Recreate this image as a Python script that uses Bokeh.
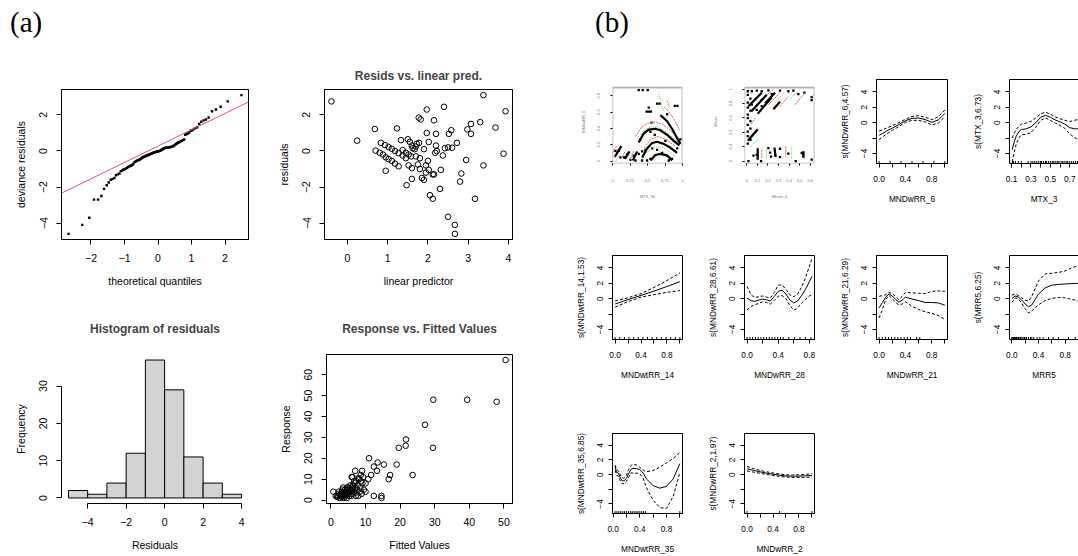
from bokeh.plotting import figure
from bokeh.layouts import row, column
from bokeh.models import (Range1d, FixedTicker, Slope, Legend, LegendItem,
                          LinearAxis, Spacer, BoxAnnotation, Div)
from bokeh.embed import file_html
from bokeh.resources import INLINE

SANS = "Liberation Sans"
SERIF = "Liberation Serif"
MINUS = "\u2212"
R_RED = "#DF536B"
R_GREEN = "#61D04F"
HIST_FILL = "#D3D3D3"

# ---------------- (a) GAM diagnostics ----------------
# QQ plot of deviance residuals
qq_theoretical = [
    -2.67, -2.26, -2.05, -1.91, -1.79, -1.69, -1.61, -1.53, -1.47, -1.41,
    -1.35, -1.30, -1.25, -1.20, -1.15, -1.11, -1.07, -1.03, -0.99, -0.96,
    -0.92, -0.89, -0.85, -0.82, -0.79, -0.76, -0.73, -0.70, -0.67, -0.64,
    -0.61, -0.58, -0.55, -0.53, -0.50, -0.47, -0.45, -0.42, -0.39, -0.37,
    -0.34, -0.32, -0.29, -0.27, -0.24, -0.21, -0.19, -0.17, -0.14, -0.12,
    -0.09, -0.07, -0.04, -0.02, 0.01, 0.03, 0.06, 0.09, 0.11, 0.14,
    0.16, 0.19, 0.21, 0.24, 0.27, 0.29, 0.32, 0.35, 0.37, 0.40,
    0.43, 0.46, 0.49, 0.52, 0.55, 0.58, 0.61, 0.64, 0.67, 0.71,
    0.74, 0.78, 0.81, 0.85, 0.89, 0.93, 0.97, 1.02, 1.07, 1.12,
    1.17, 1.23, 1.29, 1.36, 1.43, 1.51, 1.61, 1.73, 1.87, 2.08, 2.49]
qq_resid = [
    -4.6, -4.1, -3.7, -2.7, -2.7, -2.5, -2.1,
    -1.9, -1.75, -1.6, -1.55, -1.5, -1.35, -1.3, -1.25, -1.12, -1.08, -1.03, -1.01,
    -0.97, -0.93, -0.88, -0.85, -0.82, -0.8, -0.76, -0.7, -0.62, -0.58,
    -0.55, -0.52, -0.5, -0.47, -0.45, -0.42, -0.38, -0.35, -0.32, -0.3,
    -0.28, -0.26, -0.24, -0.22, -0.2, -0.18, -0.16, -0.14, -0.12, -0.1,
    -0.08, -0.07, -0.05, -0.04, -0.03, -0.02, -0.01,
    0.01, 0.04, 0.07, 0.1, 0.13, 0.15, 0.17, 0.18, 0.19, 0.2,
    0.2, 0.21, 0.22, 0.23, 0.25, 0.28, 0.32, 0.36, 0.4, 0.44,
    0.47, 0.5, 0.53, 0.56, 0.6, 0.64, 0.9, 0.94, 0.97,
    1.02, 1.12, 1.15, 1.22, 1.27, 1.32, 1.5, 1.62, 1.7, 1.75, 1.86,
    2.2, 2.3, 2.45, 2.75, 3.1]
qqline_intercept = 0.27
qqline_slope = 0.907

# residuals against the linear predictor
lp_pred = [
    -0.40, 0.24, 0.68, 1.23, 1.33,
    0.70, 0.80, 0.88, 0.95, 1.02, 1.10, 1.18, 1.27,
    0.83, 0.93, 1.02, 1.10, 1.18, 1.27, 1.37, 1.45,
    0.95, 1.37, 1.45, 1.52, 1.58,
    1.50, 1.55, 1.60, 1.62, 1.67, 1.70, 1.72, 1.78,
    1.47, 1.52, 1.60, 1.60, 1.70, 1.75, 1.80, 1.85, 1.90, 1.80, 1.90,
    1.77, 1.82, 1.97, 1.97, 1.95, 2.00, 2.02, 2.02, 1.95, 2.05, 2.12, 2.12, 2.15,
    2.15, 2.20, 2.20, 2.18, 2.22, 2.30, 2.32,
    2.37, 2.40, 2.42, 2.50, 2.52, 2.58, 2.60, 2.50, 2.67, 2.67,
    2.72, 2.80, 2.83, 2.95, 2.98, 3.07, 3.07, 3.17, 3.30, 3.38, 3.38, 3.68, 3.88, 3.93]
lp_resid = [
    2.75, 0.57, 1.22, 1.25, 0.60,
    0.02, -0.10, -0.20, -0.35, -0.45, -0.55, -0.70, -0.85,
    0.45, 0.33, 0.22, 0.12, 0.00, -0.12, -0.25, -0.40,
    -1.10, 0.05, -0.10, -0.20, -0.30,
    0.65, 0.50, 0.30, 0.15, 0.10, 0.25, 0.40, 0.45,
    -1.90, -0.80, -0.95, -1.55, -0.30, -0.75, -1.00, -1.50, -1.60, -0.40, 0.10,
    1.85, 1.75, 2.30, 1.00, -0.80, -0.55, 0.50, -1.05, -1.20, -2.45, -2.65, -1.30, -1.30,
    1.70, 0.95, 0.30, -0.10, 0.00, -2.10, -1.05,
    -0.25, 2.45, 0.15, 0.20, 0.95, 1.15, 0.18, -3.65, -4.10, -4.60,
    0.45, -1.70, -1.25, -0.50, 1.20, 1.50, 0.95, -2.65, 1.60, 3.10, -0.80, 1.30, -0.15, 2.20]

# histogram of residuals
hist_edges = [-5, -4, -3, -2, -1, 0, 1, 2, 3, 4]
hist_counts = [2, 1, 4, 12, 37, 29, 11, 4, 1]

# observed response against fitted values
fitted_vals = [
    50.5, 29.6, 39.4, 47.9, 27.2, 21.7, 21.6, 19.6, 29.5, 19.0, 23.6, 17.1, 16.7,
    15.3, 13.5, 13.3, 12.4, 11.0, 11.6, 10.8, 12.4, 14.6, 14.6, 10.0, 10.0, 9.0,
    8.6, 7.0, 6.2, 6.0, 0.7, 1.4,
    2.0, 2.3, 2.5, 2.8, 3.0, 3.2, 3.4, 3.5, 3.7, 3.9, 4.1, 4.2, 4.4, 4.5, 4.6,
    4.8, 5.0, 5.1, 5.2, 5.3, 5.5, 5.6, 5.8, 6.0, 6.1, 6.3, 6.4, 6.6, 6.8, 7.0,
    7.2, 7.3, 7.5, 7.7, 7.9, 8.1, 8.3, 8.5, 8.7, 8.9, 9.1, 9.3, 9.5, 2.6, 3.1,
    4.0, 4.7, 5.4, 6.2, 7.1, 1.8, 2.2, 3.3, 6.7, 8.0, 5.9, 4.3, 3.6]
response_vals = [
    67, 48, 48, 47, 36, 29, 26, 25, 25, 17, 12, 12, 10,
    17, 18, 14, 16, 20, 12, 10, 2, 2, 1, 8, 4, 14,
    12, 14, 11, 11, 4, 2,
    2, 3, 1, 2, 3, 4, 2, 6, 1, 3, 5, 2, 4, 3, 1,
    5, 6, 3, 4, 2, 7, 5, 4, 6, 3, 7, 5, 4, 8, 6,
    2, 9, 5, 7, 2, 10, 4, 6, 9, 3, 8, 11, 5, 2.5, 1.5,
    4, 6, 5, 5.5, 3.5, 1.5, 4, 5, 9, 10.5, 2, 3, 2]

# ---------------- (b) smooth terms ----------------
# two-variable smooths: data locations and contour lines (fit, -1se, +1se)
c1_pts_x = [0.375, 0.432, 0.504, 0.637, 0.671, 0.89, 0.928, 0.518, 0.78, 0.556,
            0.042, 0.09, 0.113, 0.161, 0.209, 0.256, 0.304, 0.328, 0.375, 0.423,
            0.471, 0.566, 0.637, 0.709, 0.78, 0.804, 0.851, 0.923, 0.947, 0.971,
            0.423, 0.494, 0.542, 0.604, 0.542, 0.399, 0.756]
c1_pts_y = [0.87, 0.87, 0.87, 0.703, 0.703, 0.677, 0.677, 0.655, 0.574, 0.47,
            0.126, 0.126, 0.044, 0.044, 0.081, 0.014, 0.063, 0.007, 0.088, 0.118,
            0.137, 0.155, 0.137, 0.1, 0.063, 0.007, 0.026, 0.155, 0.248, 0.266,
            0.007, 0.007, 0.026, 0.322, 0.359, 0.266, 0.248]
c1_fit_xs = [[0.685, 0.78, 0.851, 0.909, 0.971],
             [0.375, 0.447, 0.518, 0.613, 0.685, 0.78, 0.875, 0.956],
             [0.423, 0.494, 0.566, 0.637, 0.732, 0.828, 0.923],
             [0.542, 0.613, 0.685, 0.78, 0.851],
             [0.471, 0.566], [0.032, 0.128], [0.175, 0.242], [0.29, 0.352]]
c1_fit_ys = [[0.563, 0.488, 0.396, 0.303, 0.211],
             [0.229, 0.34, 0.385, 0.396, 0.377, 0.322, 0.248, 0.192],
             [0.044, 0.155, 0.222, 0.237, 0.211, 0.163, 0.1],
             [0.007, 0.074, 0.088, 0.07, 0.007],
             [0.607, 0.607], [0.051, 0.185], [0.026, 0.118], [0.007, 0.118]]
c1_lo_xs = [[0.74, 0.83, 0.9, 0.96], [0.33, 0.42, 0.52, 0.62, 0.72, 0.82, 0.92],
            [0.45, 0.55, 0.65, 0.78, 0.9], [0.0, 0.07], [0.12, 0.19], [0.24, 0.3],
            [0.78, 0.82]]
c1_lo_ys = [[0.66, 0.58, 0.48, 0.38], [0.30, 0.42, 0.47, 0.48, 0.45, 0.38, 0.30],
            [0.16, 0.27, 0.30, 0.26, 0.18], [0.1, 0.2], [0.03, 0.13], [0.0, 0.12],
            [0.74, 0.66]]
c1_hi_xs = [[0.66, 0.69, 0.73], [0.35, 0.44, 0.55, 0.65, 0.76, 0.88, 0.99],
            [0.40, 0.48, 0.58, 0.70, 0.82, 0.90], [0.05, 0.10], [0.20, 0.26]]
c1_hi_ys = [[0.82, 0.72, 0.62], [0.28, 0.37, 0.42, 0.42, 0.36, 0.27, 0.20],
            [0.0, 0.10, 0.17, 0.17, 0.12, 0.05], [0.0, 0.09], [0.02, 0.10]]

c2_pts_x = [0.009, 0.047, 0.009, 0.034, 0.009, 0.047, 0.009, 0.034, 0.009, 0.009,
            0.034, 0.009, 0.034, 0.009, 0.009, 0.034, 0.009,
            0.094, 0.141, 0.204, 0.236, 0.314, 0.393, 0.44, 0.487, 0.544, 0.613, 0.613,
            0.094, 0.141, 0.015, 0.063, 0.094, 0.103, 0.135, 0.22, 0.229, 0.267,
            0.314, 0.314, 0.393, 0.462, 0.519, 0.613, 0.204]
c2_pts_y = [0.97, 0.97, 0.92, 0.867, 0.812, 0.783, 0.742, 0.70, 0.646, 0.596,
            0.554, 0.504, 0.45, 0.408, 0.346, 0.296, 0.242,
            0.979, 0.97, 0.983, 0.929, 0.979, 0.97, 0.979, 0.929, 0.95, 0.887, 0.846,
            0.712, 0.762, 0.0, 0.075, 0.087, 0.033, 0.0, 0.116, 0.062, 0.087,
            0.171, 0.054, 0.104, 0.0, 0.112, 0.021, 0.179]
c2_fit_xs = [[0.015, 0.141], [0.041, 0.188], [0.103, 0.236], [0.173, 0.267],
             [0.251, 0.314], [0.009, 0.103], [0.103, 0.103], [0.261, 0.273],
             [0.534, 0.534]]
c2_fit_ys = [[0.762, 0.95], [0.687, 0.921], [0.658, 0.887], [0.804, 0.95],
             [0.721, 0.825], [0.283, 0.437], [0.179, 0.046], [0.187, 0.054],
             [0.137, 0.046]]
c2_lo_xs = [[0.126, 0.251], [0.204, 0.314], [0.314, 0.393], [0.456, 0.55],
            [0.009, 0.094], [0.141, 0.141], [0.368, 0.368], [0.544, 0.544],
            [0.041, 0.078]]
c2_lo_ys = [[0.846, 0.992], [0.783, 0.95], [0.762, 0.896], [0.783, 0.95],
            [0.304, 0.45], [0.158, 0.033], [0.2, 0.062], [0.137, 0.033],
            [0.512, 0.596]]
c2_hi_xs = [[0.267, 0.361], [0.393, 0.503], [0.597, 0.64], [0.031, 0.11],
            [0.188, 0.188], [0.424, 0.424]]
c2_hi_ys = [[0.804, 0.971], [0.846, 0.992], [0.887, 0.929], [0.2, 0.304],
            [0.179, 0.012], [0.187, 0.033]]

# one-variable smooths: fitted curve, +/- 2 se bands and rug
mndwrr6_x = [0, 0.1, 0.2, 0.3, 0.4, 0.5, 0.6, 0.7, 0.8, 0.9, 1.0]
mndwrr6_fit = [-1.65, -1.15, -0.7, -0.25, 0.25, 0.55, 0.6, 0.4, 0.05, 0.35, 1.2]
mndwrr6_hi = [-1.1, -0.75, -0.4, 0.0, 0.45, 0.8, 0.9, 0.7, 0.4, 0.75, 1.65]
mndwrr6_lo = [-2.2, -1.55, -1.0, -0.5, 0.05, 0.3, 0.3, 0.1, -0.3, -0.05, 0.75]
mndwrr6_rug = [0, 0.167, 0.333, 0.5, 0.667, 0.833, 1.0]

mtx3_x = [0.107, 0.13, 0.15, 0.18, 0.2, 0.25, 0.3, 0.35, 0.4, 0.45, 0.5, 0.55,
          0.6, 0.65, 0.7, 0.75, 0.79]
mtx3_fit = [-3.5, -2.4, -1.7, -1.1, -0.9, -0.8, -0.55, 0.0, 0.7, 0.95, 0.7, 0.35,
            0.1, -0.2, -0.65, -0.8, -0.8]
mtx3_hi = [-2.0, -1.3, -0.85, -0.4, -0.2, -0.05, 0.15, 0.6, 1.15, 1.35, 1.1, 0.75,
           0.5, 0.3, 0.15, 0.3, 0.45]
mtx3_lo = [-5.1, -3.7, -2.7, -1.9, -1.6, -1.5, -1.3, -0.6, 0.3, 0.6, 0.3, -0.05,
           -0.35, -0.75, -1.45, -1.95, -2.2]
mtx3_rug = [0.11, 0.12, 0.14, 0.17, 0.2, 0.27, 0.3, 0.32, 0.34, 0.36, 0.38, 0.4,
            0.41, 0.43, 0.45, 0.46, 0.48, 0.5, 0.52, 0.53, 0.55, 0.57, 0.58, 0.6,
            0.62, 0.63, 0.65, 0.67, 0.68, 0.7, 0.72, 0.74, 0.76, 0.78]

mndwtrr14_x = [0, 0.2, 0.4, 0.6, 0.8, 1.0]
mndwtrr14_fit = [-0.7, -0.12, 0.42, 0.98, 1.58, 2.2]
mndwtrr14_hi = [-0.3, 0.12, 0.65, 1.45, 2.35, 3.35]
mndwtrr14_lo = [-1.1, -0.38, 0.2, 0.52, 0.82, 1.05]
mndwtrr14_rug = [0, 0.071, 0.143, 0.214, 0.286, 0.357, 0.429, 0.5, 0.571, 0.643,
                 0.714, 0.786, 0.857, 0.929, 1.0]

mndwrr28_x = [0, 0.05, 0.1, 0.15, 0.2, 0.25, 0.3, 0.35, 0.4, 0.45, 0.5, 0.55, 0.6,
              0.65, 0.7, 0.75, 0.8, 0.833]
mndwrr28_fit = [0.05, -0.25, -0.35, -0.2, -0.05, -0.15, -0.3, 0.3, 0.95, 1.1, 0.6,
                -0.2, -0.55, -0.3, 0.4, 1.2, 2.2, 2.9]
mndwrr28_hi = [1.6, 0.5, 0.15, 0.25, 0.35, 0.2, 0.1, 0.8, 1.75, 1.8, 1.2, 0.5, 0.25,
               0.6, 1.5, 2.7, 4.2, 5.2]
mndwrr28_lo = [-1.45, -1.0, -0.8, -0.6, -0.4, -0.5, -0.7, -0.2, 0.3, 0.4, 0.0, -0.9,
               -1.5, -1.2, -0.6, -0.1, 0.35, 0.55]
mndwrr28_rug = [0, 0.036, 0.071, 0.107, 0.143, 0.179, 0.214, 0.25, 0.286, 0.321,
                0.357, 0.393, 0.429, 0.464, 0.536, 0.607, 0.679, 0.75, 0.821]

mndwrr21_x = [0, 0.05, 0.1, 0.15, 0.2, 0.25, 0.3, 0.35, 0.4, 0.5, 0.6, 0.7, 0.8, 0.9, 1.0]
mndwrr21_fit = [-1.2, -0.5, 0.2, 0.6, 0.35, -0.1, -0.45, -0.2, 0.2, -0.05, -0.25,
                -0.5, -0.5, -0.55, -0.85]
mndwrr21_hi = [0.3, 0.4, 0.5, 0.8, 0.65, 0.3, -0.1, 0.3, 0.8, 0.75, 0.7, 0.65, 0.95,
               1.0, 0.95]
mndwrr21_lo = [-2.5, -1.4, -0.1, 0.4, 0.0, -0.5, -0.8, -0.7, -0.4, -1.0, -1.4, -1.7,
               -1.9, -2.2, -2.7]
mndwrr21_rug = [0, 0.048, 0.095, 0.143, 0.19, 0.238, 0.286, 0.333, 0.381, 0.429,
                0.476, 0.571, 0.619]

mrr5_x = [0, 0.05, 0.1, 0.15, 0.2, 0.25, 0.3, 0.35, 0.4, 0.5, 0.6, 0.7, 0.8, 0.9, 1.0]
mrr5_fit = [0.0, 0.35, 0.2, -0.2, -0.7, -1.05, -0.8, -0.1, 0.6, 1.4, 1.75, 1.85, 1.9,
            1.95, 2.0]
mrr5_hi = [0.45, 0.6, 0.4, 0.1, -0.2, -0.3, 0.3, 1.3, 2.3, 3.2, 3.3, 3.4, 3.6, 4.0, 4.3]
mrr5_lo = [-0.5, 0.1, -0.05, -0.6, -1.3, -1.85, -1.6, -1.2, -0.8, -0.25, 0.05, 0.15,
           0.1, -0.1, -0.3]
mrr5_rug = [0.0, 0.01, 0.02, 0.03, 0.04, 0.05, 0.06, 0.07, 0.08, 0.1, 0.11, 0.13,
            0.15, 0.17, 0.19, 0.2, 0.22, 0.25, 0.28, 0.3, 0.33, 0.38, 0.42, 0.47,
            0.55, 0.62, 0.7, 0.85, 0.95]

mndwtrr35_x = [0.029, 0.05, 0.08, 0.1, 0.13, 0.16, 0.2, 0.23, 0.27, 0.3, 0.35, 0.4,
               0.45, 0.5, 0.6, 0.7, 0.8, 0.9, 1.0]
mndwtrr35_fit = [1.1, 0.3, 0.2, -0.3, -0.8, -0.85, -0.5, 0.1, 0.75, 0.85, 0.8, 0.7,
                 0.2, -0.6, -1.5, -1.85, -1.6, -0.6, 1.5]
mndwtrr35_hi = [1.3, 0.7, 0.5, 0.1, -0.4, -0.5, -0.1, 0.7, 1.25, 1.4, 1.3, 1.0, 0.6,
                0.4, 0.55, 1.0, 1.6, 2.2, 3.0]
mndwtrr35_lo = [0.6, -0.1, -0.2, -0.7, -1.2, -1.25, -0.9, -0.4, 0.25, 0.2, 0.2, 0.1,
                -0.5, -1.8, -3.5, -4.5, -4.6, -3.0, 0.3]
mndwtrr35_rug = [0.029, 0.057, 0.086, 0.114, 0.143, 0.171, 0.2, 0.229, 0.257, 0.286,
                 0.314, 0.343, 0.371, 0.4, 0.429, 0.457, 0.486, 1.0]

mndwrr2_x = [0, 0.1, 0.2, 0.3, 0.4, 0.5, 0.6, 0.7, 0.8, 0.9, 1.0]
mndwrr2_fit = [0.8, 0.58, 0.38, 0.2, 0.05, -0.08, -0.18, -0.22, -0.2, -0.17, -0.12]
mndwrr2_hi = [1.1, 0.82, 0.58, 0.38, 0.22, 0.08, -0.02, -0.05, -0.02, 0.03, 0.12]
mndwrr2_lo = [0.5, 0.34, 0.18, 0.02, -0.12, -0.24, -0.34, -0.39, -0.38, -0.37, -0.36]
mndwrr2_rug = [0, 0.5, 1.0]

SMOOTH_Y = (-5.3, 5.6)
SMOOTH_YTICKS = [-4, -2, 0, 2, 4]
SMOOTH_YLABELS = {-4: MINUS + "4", -2: "", 0: "0", 2: "2", 4: "4"}
UNIT_TICKS = [0, 0.2, 0.4, 0.6, 0.8, 1]
UNIT_LABELS = {0: "0.0", 0.2: "", 0.4: "0.4", 0.6: "", 0.8: "0.8", 1: ""}


def signed(v):
    return ("%g" % v).replace("-", MINUS)


def make_fig(w, h, xr, yr, left, right, top, bottom, title=None):
    p = figure(width=w, height=h, x_range=Range1d(*xr), y_range=Range1d(*yr),
               title=title, output_backend="svg", toolbar_location=None,
               min_border_left=left, min_border_right=right,
               min_border_top=top, min_border_bottom=bottom)
    p.grid.visible = False
    p.background_fill_color = "white"
    p.border_fill_color = "white"
    p.outline_line_color = "black"
    p.outline_line_width = 1
    p.outline_line_alpha = 1
    return p


def style_axes(p, fs, tick_out, lab_off, title_off, color="black"):
    for ax in p.axis:
        ax.major_label_text_font = SANS
        ax.major_label_text_font_size = fs
        ax.major_label_text_color = color
        ax.axis_label_text_font = SANS
        ax.axis_label_text_font_size = fs
        ax.axis_label_text_font_style = "normal"
        ax.axis_label_text_color = color
        ax.axis_line_color = "black"
        ax.major_tick_line_color = "black"
        ax.major_tick_out = tick_out
        ax.major_tick_in = 0
        ax.minor_tick_out = 0
        ax.minor_tick_in = 0
        ax.major_label_standoff = lab_off
        ax.axis_label_standoff = title_off
    p.yaxis.major_label_orientation = "vertical"


def set_ticks(axis, ticks, labels=None):
    axis.ticker = FixedTicker(ticks=ticks, minor_ticks=[])
    axis.major_label_overrides = labels if labels is not None else {t: signed(t) for t in ticks}


def style_title(p, off):
    p.title.text_font = SANS
    p.title.text_font_size = "12px"
    p.title.text_font_style = "bold"
    p.title.align = "center"
    p.title.standoff = off


def panel_tag(tag, width, left_pad):
    html = ('<div style="font-family: \'%s\', serif; font-size: 29px; '
            'line-height: 44px; padding-left: %dpx; color: black; '
            'white-space: nowrap;">%s</div>') % (SERIF, left_pad, tag)
    return Div(text=html, width=width, height=40, margin=0)


FS_A = "10.5px"
FS_B = "8.3px"

# --- QQ plot ---
qq = make_fig(270, 250, (-2.88, 2.70), (-4.91, 3.41), 61, 22, 49, 51)
qq.add_layout(Slope(gradient=qqline_slope, y_intercept=qqline_intercept,
                    line_color=R_RED, line_width=1))
qq.scatter(qq_theoretical, qq_resid, marker="square", size=2.4,
           fill_color="black", line_color=None)
style_axes(qq, FS_A, 5, 9, 10)
set_ticks(qq.xaxis, [-2, -1, 0, 1, 2])
set_ticks(qq.yaxis, [-4, -2, 0, 2])
qq.xaxis.axis_label = "theoretical quantiles"
qq.yaxis.axis_label = "deviance residuals"

# --- residuals vs linear predictor ---
rl = make_fig(290, 250, (-0.573, 4.103), (-4.91, 3.41), 54, 48, 49, 51,
              title="Resids vs. linear pred.")
rl.scatter(lp_pred, lp_resid, marker="circle", size=5.6, fill_color=None,
           line_color="black", line_width=1)
style_axes(rl, FS_A, 5, 9, 10)
style_title(rl, 14)
set_ticks(rl.xaxis, [0, 1, 2, 3, 4])
set_ticks(rl.yaxis, [-4, -2, 0, 2])
rl.xaxis.axis_label = "linear predictor"
rl.yaxis.axis_label = "residuals"

# --- histogram ---
hs = make_fig(270, 266, (-5.36, 4.36), (-1.48, 38.48), 61, 22, 64, 53,
              title="Histogram of residuals")
hs.outline_line_color = None
hs.quad(left=hist_edges[:-1], right=hist_edges[1:], bottom=0, top=hist_counts,
        fill_color=HIST_FILL, line_color="black", line_width=1)
style_axes(hs, FS_A, 5, 9, 10)
style_title(hs, 38)
set_ticks(hs.xaxis, [-4, -2, 0, 2, 4])
set_ticks(hs.yaxis, [0, 10, 20, 30])
hs.xaxis.bounds = (-4, 4)
hs.yaxis.bounds = (0, 30)
hs.xaxis.axis_label = "Residuals"
hs.yaxis.axis_label = "Frequency"

# --- response vs fitted ---
rf = make_fig(290, 266, (-1.29, 52.49), (-1.64, 69.64), 56, 48, 64, 53,
              title="Response vs. Fitted Values")
rf.scatter(fitted_vals, response_vals, marker="circle", size=5.6, fill_color=None,
           line_color="black", line_width=1)
style_axes(rf, FS_A, 5, 9, 10)
style_title(rf, 38)
set_ticks(rf.xaxis, [0, 10, 20, 30, 40, 50])
set_ticks(rf.yaxis, [0, 10, 20, 30, 40, 50, 60])
rf.xaxis.axis_label = "Fitted Values"
rf.yaxis.axis_label = "Response"


def contour_fig(w, h, xr, yr, box_top, left, right, top, bottom, xticks, yticks,
                px, py, fxs, fys, lxs, lys, hxs, hys, xlab, ylab, term):
    # the frame reaches a little above the data box so the key can sit over it
    p = make_fig(w, h, xr, yr, left, right, top, bottom)
    p.outline_line_color = None
    p.add_layout(BoxAnnotation(left=xr[0], right=xr[1], bottom=yr[0], top=box_top,
                               fill_alpha=0, line_color="black", line_width=1.6))
    p.scatter(px, py, marker="square", size=2.3, fill_color="black", line_color=None)
    r_lo = p.multi_line(lxs, lys, line_color=R_RED, line_width=1, line_dash="2 1")
    r_hi = p.multi_line(hxs, hys, line_color=R_GREEN, line_width=1, line_dash="1 1")
    r_fit = p.multi_line(fxs, fys, line_color="black", line_width=2.2)
    style_axes(p, "4px", 2, 10, 9, color="#777777")
    p.xaxis.major_label_standoff = 13
    set_ticks(p.xaxis, xticks, {t: "%g" % t for t in xticks})
    set_ticks(p.yaxis, yticks, {t: "%g" % t for t in yticks})
    p.xaxis.axis_line_color = None
    p.yaxis.axis_line_color = None
    p.xaxis.axis_label = xlab
    p.yaxis.axis_label = ylab
    leg = Legend(items=[LegendItem(label="-1se", renderers=[r_lo]),
                        LegendItem(label=term, renderers=[r_fit]),
                        LegendItem(label="+1se", renderers=[r_hi])],
                 orientation="horizontal", location=(1, 86),
                 label_text_font=SANS, label_text_font_size="2.2px",
                 label_text_color="#777777", label_standoff=1, label_height=3,
                 label_width=1, glyph_width=6, glyph_height=3, spacing=3,
                 padding=0, margin=0, border_line_color=None,
                 background_fill_alpha=0)
    p.add_layout(leg, "center")
    return p


def smooth_fig(w, h, left, right, top, bottom, xr, xticks, xlabels,
               xs, fit, hi, lo, rug, xlab, ylab, open_right=False):
    p = make_fig(w, h, xr, SMOOTH_Y, left, right, top, bottom)
    p.line(xs, fit, line_color="black", line_width=1)
    p.line(xs, hi, line_color="black", line_width=1, line_dash="3 2")
    p.line(xs, lo, line_color="black", line_width=1, line_dash="3 2")
    y0 = SMOOTH_Y[0]
    rug_top = y0 + 0.03 * (SMOOTH_Y[1] - SMOOTH_Y[0])
    p.segment(x0=rug, y0=[y0] * len(rug), x1=rug, y1=[rug_top] * len(rug),
              line_color="black", line_width=1)
    style_axes(p, FS_B, 4, 5, 9)
    p.xaxis.major_label_standoff = 8
    set_ticks(p.xaxis, xticks, xlabels)
    set_ticks(p.yaxis, SMOOTH_YTICKS, SMOOTH_YLABELS)
    p.xaxis.axis_label = xlab
    p.yaxis.axis_label = ylab
    if open_right:
        p.outline_line_color = None
        top_line = LinearAxis(ticker=FixedTicker(ticks=[], minor_ticks=[]),
                              major_label_text_font_size="0px", major_tick_out=0,
                              major_tick_in=0, minor_tick_out=0, minor_tick_in=0,
                              axis_line_color="black")
        p.add_layout(top_line, "above")
    return p


# row 1
b11 = contour_fig(132, 170, (0, 1), (-0.03, 1.0), 0.9, 52, 10, 30, 47,
                  [0, 0.25, 0.5, 0.75, 1], [0, 0.2, 0.4, 0.6, 0.8],
                  c1_pts_x, c1_pts_y, c1_fit_xs, c1_fit_ys, c1_lo_xs, c1_lo_ys,
                  c1_hi_xs, c1_hi_ys, "MTX_36", "MNDwRR_6",
                  "s(MTX_36,MNDwRR_6,8.81)")
b12 = contour_fig(132, 170, (-0.022, 0.64), (-0.034, 1.133), 1.02, 52, 10, 30, 47,
                  [0, 0.1, 0.2, 0.3, 0.4, 0.5, 0.6], [0, 0.2, 0.4, 0.6, 0.8, 1],
                  c2_pts_x, c2_pts_y, c2_fit_xs, c2_fit_ys, c2_lo_xs, c2_lo_ys,
                  c2_hi_xs, c2_hi_ys, "Mhum_6", "Mean",
                  "s(Mhum_6,MNDwRR_6,12.4)")
b13 = smooth_fig(132, 170, 52, 9, 39, 47, (-0.04, 1.04), UNIT_TICKS, UNIT_LABELS,
                 mndwrr6_x, mndwrr6_fit, mndwrr6_hi, mndwrr6_lo, mndwrr6_rug,
                 "MNDwRR_6", "s(MNDwRR_6,4.57)")
b14 = smooth_fig(122, 170, 53, 0, 39, 47, (0.079, 0.79),
                 [0.1, 0.2, 0.3, 0.4, 0.5, 0.6, 0.7],
                 {0.1: "0.1", 0.2: "", 0.3: "0.3", 0.4: "", 0.5: "0.5", 0.6: "", 0.7: "0.7"},
                 mtx3_x, mtx3_fit, mtx3_hi, mtx3_lo, mtx3_rug,
                 "MTX_3", "s(MTX_3,6.73)", open_right=True)

# row 2
b21 = smooth_fig(132, 175, 52, 10, 45, 46, (-0.04, 1.04), UNIT_TICKS, UNIT_LABELS,
                 mndwtrr14_x, mndwtrr14_fit, mndwtrr14_hi, mndwtrr14_lo, mndwtrr14_rug,
                 "MNDwtRR_14", "s(MNDwtRR_14,1.53)")
b22 = smooth_fig(132, 175, 52, 10, 45, 46, (-0.033, 0.866), [0, 0.2, 0.4, 0.6, 0.8],
                 {0: "0.0", 0.2: "", 0.4: "0.4", 0.6: "", 0.8: "0.8"},
                 mndwrr28_x, mndwrr28_fit, mndwrr28_hi, mndwrr28_lo, mndwrr28_rug,
                 "MNDwRR_28", "s(MNDwRR_28,6.61)")
b23 = smooth_fig(132, 175, 52, 9, 45, 46, (-0.04, 1.04), UNIT_TICKS, UNIT_LABELS,
                 mndwrr21_x, mndwrr21_fit, mndwrr21_hi, mndwrr21_lo, mndwrr21_rug,
                 "MNDwRR_21", "s(MNDwRR_21,6.29)")
b24 = smooth_fig(122, 175, 53, 0, 45, 46, (-0.035, 1.0), UNIT_TICKS, UNIT_LABELS,
                 mrr5_x, mrr5_fit, mrr5_hi, mrr5_lo, mrr5_rug,
                 "MRR5", "s(MRR5,6.25)", open_right=True)

# row 3
b31 = smooth_fig(132, 171, 52, 10, 48, 40, (-0.01, 1.04), UNIT_TICKS, UNIT_LABELS,
                 mndwtrr35_x, mndwtrr35_fit, mndwtrr35_hi, mndwtrr35_lo, mndwtrr35_rug,
                 "MNDwtRR_35", "s(MNDwtRR_35,6.85)")
b32 = smooth_fig(132, 171, 52, 10, 48, 40, (-0.04, 1.04), UNIT_TICKS, UNIT_LABELS,
                 mndwrr2_x, mndwrr2_fit, mndwrr2_hi, mndwrr2_lo, mndwrr2_rug,
                 "MNDwRR_2", "s(MNDwRR_2,1.97)")

section_a = column(panel_tag("(a)", 560, 10), row(qq, rl), row(hs, rf))
section_b = column(panel_tag("(b)", 518, 35),
                   row(b11, b12, b13, b14), row(b21, b22, b23, b24),
                   row(b31, b32, Spacer(width=254, height=171)))
layout = row(section_a, section_b)

open("out.html", "w").write(file_html(layout, INLINE))
